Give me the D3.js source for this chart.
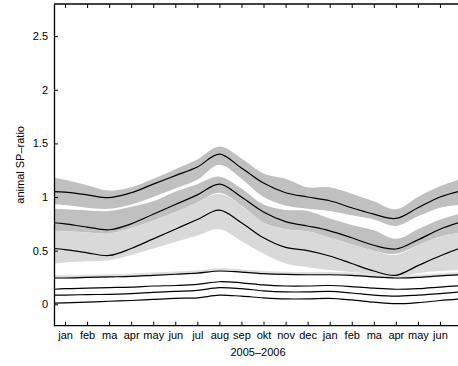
<!DOCTYPE html>
<html>
<head>
<meta charset="utf-8">
<script src="https://cdn.jsdelivr.net/npm/d3@7"></script>
<style>
    body { margin: 0; background: #fff; }
    svg { display: block; font-family: "Liberation Sans", Arial, sans-serif; }
</style>
</head>
<body>
<script>
// month labels along the bottom axis
var months = ["jan", "feb", "ma", "apr", "may", "jun", "jul", "aug", "sep", "okt", "nov", "dec",
              "jan", "feb", "ma", "apr", "may", "jun"];
// sample positions (month index); first and last are the plot edges
var t = [-0.5, 0, 1, 2, 3, 4, 5, 6, 7, 8, 9, 10, 11, 12, 13, 14, 15, 16, 17, 18];
var yTicks = [0, 0.5, 1, 1.5, 2, 2.5];

// series (median curves)
var line1 = [1.05, 1.045, 1.02, 0.995, 1.04, 1.12, 1.2, 1.28, 1.40, 1.27, 1.13, 1.04, 1.0, 0.965, 0.9, 0.84, 0.80, 0.9, 1.0, 1.06];
var line2 = [0.76, 0.75, 0.72, 0.695, 0.75, 0.84, 0.93, 1.02, 1.12, 1.0, 0.86, 0.77, 0.73, 0.685, 0.62, 0.55, 0.515, 0.6, 0.7, 0.77];
var line3 = [0.52, 0.51, 0.48, 0.455, 0.52, 0.61, 0.7, 0.79, 0.877, 0.76, 0.62, 0.53, 0.5, 0.45, 0.38, 0.31, 0.27, 0.36, 0.45, 0.53];
var line4 = [0.245, 0.245, 0.25, 0.255, 0.26, 0.27, 0.28, 0.29, 0.31, 0.30, 0.285, 0.278, 0.275, 0.275, 0.27, 0.255, 0.245, 0.25, 0.265, 0.275];
var line5 = [0.14, 0.145, 0.15, 0.155, 0.16, 0.17, 0.175, 0.185, 0.21, 0.2, 0.18, 0.17, 0.17, 0.175, 0.165, 0.15, 0.14, 0.145, 0.16, 0.175];
var line6 = [0.085, 0.086, 0.09, 0.093, 0.1, 0.11, 0.12, 0.13, 0.155, 0.145, 0.125, 0.115, 0.115, 0.12, 0.105, 0.085, 0.075, 0.085, 0.1, 0.115];
var line7 = [0.01, 0.012, 0.02, 0.028, 0.035, 0.045, 0.055, 0.06, 0.085, 0.075, 0.06, 0.05, 0.05, 0.055, 0.04, 0.02, 0.005, 0.015, 0.035, 0.05];

// bands (lower / upper)
var band1Lo = [0.93, 0.925, 0.9, 0.89, 0.93, 1.0, 1.08, 1.16, 1.30, 1.17, 1.0, 0.92, 0.89, 0.87, 0.83, 0.79, 0.73, 0.82, 0.9, 0.93];
var band1Hi = [1.18, 1.16, 1.11, 1.06, 1.09, 1.17, 1.26, 1.35, 1.47, 1.36, 1.22, 1.17, 1.09, 1.09, 1.03, 0.96, 0.885, 1.0, 1.1, 1.17];
var band2Lo = [0.68, 0.68, 0.67, 0.66, 0.71, 0.78, 0.86, 0.95, 1.04, 0.92, 0.76, 0.70, 0.68, 0.62, 0.56, 0.50, 0.47, 0.55, 0.63, 0.67];
var band2Hi = [0.89, 0.885, 0.875, 0.87, 0.91, 0.96, 1.05, 1.12, 1.19, 1.08, 0.93, 0.88, 0.87, 0.80, 0.74, 0.69, 0.61, 0.70, 0.79, 0.85];
var band3Lo = [0.38, 0.39, 0.40, 0.41, 0.46, 0.52, 0.58, 0.64, 0.70, 0.59, 0.47, 0.38, 0.345, 0.32, 0.30, 0.28, 0.25, 0.29, 0.31, 0.32];
var band3Hi = [0.68, 0.68, 0.67, 0.66, 0.71, 0.78, 0.86, 0.95, 1.03, 0.92, 0.76, 0.70, 0.68, 0.62, 0.56, 0.50, 0.46, 0.55, 0.63, 0.67];
var band4Lo = [0.24, 0.24, 0.245, 0.25, 0.255, 0.265, 0.275, 0.285, 0.305, 0.295, 0.28, 0.273, 0.27, 0.27, 0.265, 0.25, 0.24, 0.245, 0.26, 0.27];
var band4Hi = [0.27, 0.27, 0.275, 0.28, 0.285, 0.295, 0.305, 0.315, 0.335, 0.325, 0.31, 0.303, 0.3, 0.3, 0.295, 0.28, 0.27, 0.275, 0.29, 0.3];

function drawChart() {
    var W = 458, H = 366;
    var box = { left: 54, right: 462, top: 4, bottom: 325.7 };
    var fontSize = 11;

    var svg = d3.select("body").append("svg").attr("width", W).attr("height", H);

    var x = d3.scaleLinear().domain([-0.5, 18]).range([box.left, box.right]);
    var y = d3.scaleLinear().domain([-0.2, 2.8]).range([box.bottom, box.top]);

    svg.append("clipPath").attr("id", "plot-clip")
        .append("rect").attr("x", box.left).attr("y", box.top)
        .attr("width", box.right - box.left).attr("height", box.bottom - box.top);

    var plot = svg.append("g").attr("clip-path", "url(#plot-clip)");

    var curve = d3.curveCatmullRom.alpha(0.5);

    function bandData(lo, hi) {
        return t.map(function(d, i) { return { t: d, lo: lo[i], hi: hi[i] }; });
    }
    var area = d3.area().curve(curve)
        .x(function(d) { return x(d.t); })
        .y0(function(d) { return y(d.lo); })
        .y1(function(d) { return y(d.hi); });

    var bands = [
        { lo: band1Lo, hi: band1Hi, fill: "#c0c0c0" },
        { lo: band2Lo, hi: band2Hi, fill: "#c0c0c0" },
        { lo: band3Lo, hi: band3Hi, fill: "#d9d9d9" },
        { lo: band4Lo, hi: band4Hi, fill: "#dedede" }
    ];
    bands.forEach(function(b) {
        plot.append("path")
            .attr("d", area(bandData(b.lo, b.hi)))
            .attr("fill", b.fill)
            .attr("stroke", "none");
    });

    var line = d3.line().curve(curve)
        .x(function(d, i) { return x(t[i]); })
        .y(function(d) { return y(d); });

    [line1, line2, line3, line4, line5, line6, line7].forEach(function(s) {
        plot.append("path")
            .attr("d", line(s))
            .attr("fill", "none")
            .attr("stroke", "#000")
            .attr("stroke-width", 1.2);
    });

    // axes (matlab style, ticks pointing inward)
    var monthTicks = d3.range(months.length);

    svg.append("g").attr("transform", "translate(0," + box.bottom + ")")
        .call(d3.axisBottom(x).tickValues(monthTicks).tickSizeInner(-4).tickSizeOuter(0)
            .tickPadding(6).tickFormat(function(d) { return months[d]; }))
        .call(function(g) {
            g.select(".domain").attr("d", "M" + box.left + ",0H" + (box.right + 2)).attr("stroke-width", 1.3);
            g.selectAll("text").attr("font-size", fontSize).attr("fill", "#000");
        });

    svg.append("g").attr("transform", "translate(0," + box.top + ")")
        .call(d3.axisTop(x).tickValues(monthTicks).tickSizeInner(-4).tickSizeOuter(0).tickFormat(""))
        .call(function(g) {
            g.select(".domain").attr("d", "M" + box.left + ",0H" + (box.right + 2)).attr("stroke-width", 1.3);
        });

    svg.append("g").attr("transform", "translate(" + box.left + ",0)")
        .call(d3.axisLeft(y).tickValues(yTicks).tickSizeInner(-4).tickSizeOuter(0).tickPadding(6)
            .tickFormat(function(d) { return String(d); }))
        .call(function(g) {
            g.select(".domain").attr("stroke-width", 1.3);
            g.selectAll("text").attr("font-size", fontSize).attr("fill", "#000");
        });

    svg.append("text")
        .attr("x", (box.left + box.right) / 2)
        .attr("y", 356)
        .attr("text-anchor", "middle")
        .attr("font-size", fontSize)
        .text("2005\u20132006");

    svg.append("text")
        .attr("transform", "translate(24," + ((box.top + box.bottom) / 2) + ")rotate(-90)")
        .attr("text-anchor", "middle")
        .attr("font-size", fontSize)
        .text("animal SP\u2013ratio");
}

drawChart();
</script>
</body>
</html>
